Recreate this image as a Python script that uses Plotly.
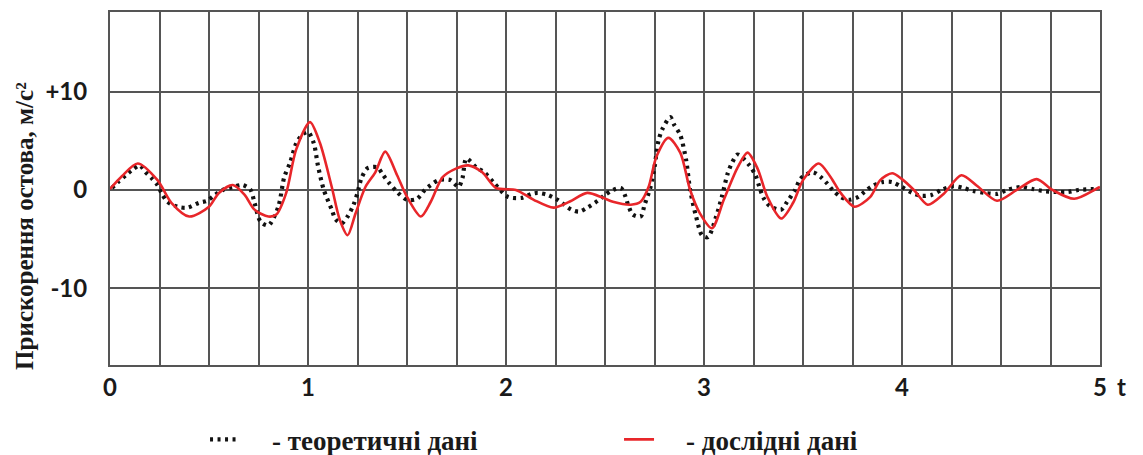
import plotly.graph_objects as go

# experimental data (red line)
t_exp = [0.00, 0.06, 0.14, 0.24, 0.31, 0.40, 0.50, 0.55, 0.62, 0.68, 0.73, 0.80, 0.84, 0.89, 0.94,
         1.01, 1.06, 1.12, 1.16, 1.20, 1.24, 1.29, 1.34, 1.39, 1.45, 1.50, 1.57, 1.62, 1.68, 1.75,
         1.81, 1.88, 1.95, 2.05, 2.14, 2.24, 2.32, 2.41, 2.49, 2.54, 2.63, 2.68, 2.72, 2.76, 2.82,
         2.88, 2.93, 2.98, 3.04, 3.10, 3.17, 3.22, 3.27, 3.32, 3.39, 3.45, 3.50, 3.58, 3.64, 3.69,
         3.76, 3.84, 3.89, 3.95, 4.00, 4.06, 4.13, 4.21, 4.30, 4.38, 4.48, 4.58, 4.68, 4.76, 4.87,
         4.98, 5.00]
a_exp = [0.1, 1.4, 2.7, 1.0, -1.3, -2.7, -1.7, -0.3, 0.5, -0.5, -2.0, -2.7, -2.5, -0.3, 4.1,
         6.9, 4.8, 0.3, -3.0, -4.6, -2.4, 0.3, 1.8, 3.9, 1.5, -0.7, -2.7, -1.2, 1.3, 2.2,
         2.5, 1.8, 0.2, 0.0, -1.0, -1.8, -1.2, -0.3, -0.8, -1.2, -1.5, -1.2, 0.3, 3.4, 5.3,
         3.8, 0.0, -2.4, -3.9, -1.0, 2.3, 3.8, 2.2, -0.7, -2.9, -1.3, 1.0, 2.7, 1.3, -0.3,
         -1.7, -0.7, 1.0, 1.7, 1.1, 0.0, -1.5, -0.4, 1.5, 0.4, -1.1, 0.0, 1.1, 0.0, -0.9,
         0.1, 0.3]

# theoretical data (black dotted line)
t_th = [0.01, 0.04, 0.08, 0.11, 0.15, 0.18, 0.21, 0.24, 0.26, 0.29, 0.34, 0.39, 0.45, 0.49, 0.53,
        0.57, 0.62, 0.67, 0.71, 0.73, 0.76, 0.80, 0.85, 0.88, 0.91, 0.94, 0.97, 1.00, 1.03, 1.05,
        1.08, 1.12, 1.14, 1.17, 1.20, 1.23, 1.25, 1.27, 1.30, 1.35, 1.38, 1.41, 1.45, 1.50, 1.55,
        1.59, 1.62, 1.66, 1.72, 1.76, 1.78, 1.80, 1.85, 1.89, 1.94, 2.01, 2.08, 2.13, 2.16, 2.21,
        2.26, 2.33, 2.37, 2.41, 2.47, 2.50, 2.54, 2.58, 2.60, 2.62, 2.64, 2.68, 2.70, 2.73, 2.75,
        2.77, 2.79, 2.83, 2.85, 2.88, 2.91, 2.93, 2.96, 2.99, 3.02, 3.06, 3.09, 3.12, 3.14, 3.17,
        3.23, 3.26, 3.28, 3.30, 3.33, 3.39, 3.42, 3.46, 3.49, 3.55, 3.59, 3.62, 3.65, 3.69, 3.73,
        3.78, 3.81, 3.85, 3.90, 3.95, 4.00, 4.05, 4.10, 4.15, 4.20, 4.26, 4.31, 4.36, 4.42, 4.48,
        4.53, 4.60, 4.66, 4.71, 4.78, 4.84, 4.89, 4.98]
a_th = [0.2, 0.8, 1.5, 2.0, 2.5, 1.8, 1.2, 0.5, -0.3, -1.2, -1.7, -1.8, -1.3, -1.1, -0.5,
        0.0, 0.3, 0.5, 0.0, -1.3, -3.2, -3.6, -1.7, 1.3, 2.8, 4.7, 5.6, 5.9, 4.7, 2.5,
        0.0, -2.0, -3.0, -3.4, -2.7, -1.5, -0.3, 1.2, 2.2, 2.3, 1.5, 0.7, -0.2, -1.0, -0.9,
        0.0, 0.5, 1.0, 1.0, 0.3, 1.2, 3.2, 2.3, 1.8, 0.7, -0.7, -0.8, -0.4, -0.3, -0.5,
        -1.0, -2.0, -2.2, -1.8, -1.0, -0.5, 0.0, 0.2, -0.5, -1.7, -2.5, -2.7, -1.5, 0.3, 2.3,
        5.0, 6.2, 7.4, 6.6, 5.6, 3.0, 0.0, -2.7, -4.6, -4.8, -2.8, -0.7, 1.7, 2.7, 3.6,
        2.5, 1.5, 0.3, -0.8, -1.6, -2.0, -1.2, 0.0, 1.2, 1.8, 1.3, 0.7, 0.0, -0.7, -1.0,
        -0.7, -0.2, 0.4, 0.8, 0.8, 0.3, -0.3, -0.6, -0.5, 0.0, 0.4, 0.2, -0.1, -0.3, -0.4,
        0.0, 0.3, 0.1, -0.1, -0.2, -0.2, 0.0, 0.1]

x_ticks = [0, 1, 2, 3, 4, 5]
x_ticktext = ["0", "1", "2", "3", "4", "5"]
y_ticks = [-10, 0, 10]
y_ticktext = ["-10", "0", "+10"]

name_th = "\u2002\u2002- теоретичні дані"
name_exp = "\u2002\u2002- дослідні дані"
y_title = "Прискорення остова, м/с²"

GRID = "#555555"
TXT = "#1a1a1a"
SANS = "Lato, 'Open Sans', 'Liberation Sans', sans-serif"
SERIF = "'Liberation Serif', 'DejaVu Serif', serif"

fig = go.Figure()
fig.add_trace(go.Scatter(
    x=t_th, y=a_th, mode="lines", name=name_th,
    line=dict(color="#111111", width=4.2, dash="3px,4.5px", shape="spline", smoothing=0.8),
))
fig.add_trace(go.Scatter(
    x=t_exp, y=a_exp, mode="lines", name=name_exp,
    line=dict(color="#e8262a", width=2.6, shape="spline", smoothing=0.8),
))

# the page body adds an 8 px offset, so the figure is 8 px smaller than the window
fig.update_layout(
    width=1135, height=447,
    margin=dict(l=102, r=43, t=4, b=90, autoexpand=False),
    paper_bgcolor="white", plot_bgcolor="white",
    showlegend=True,
    legend=dict(
        orientation="h", xref="container", yref="container",
        x=0.1736, xanchor="left", y=0.034, yanchor="middle",
        entrywidth=369, entrywidthmode="pixels",
        font=dict(family=SERIF, size=27, color=TXT, weight="bold"),
        bgcolor="rgba(0,0,0,0)",
    ),
    xaxis=dict(
        range=[0, 5], tickvals=x_ticks, ticktext=x_ticktext, automargin=False,
        showgrid=True, gridcolor=GRID, gridwidth=2,
        minor=dict(dtick=0.25, showgrid=True, gridcolor=GRID, gridwidth=2),
        showline=True, linecolor=GRID, linewidth=2, mirror=True,
        ticks="",
        tickfont=dict(family=SANS, size=24, color=TXT, weight="bold"),
        zeroline=False, fixedrange=True,
    ),
    yaxis=dict(
        range=[-17.8, 18.1], tickvals=y_ticks, ticktext=y_ticktext, automargin=False,
        showgrid=True, gridcolor=GRID, gridwidth=2,
        showline=True, linecolor=GRID, linewidth=2, mirror=True,
        ticks="outside", ticklen=16, tickcolor="rgba(0,0,0,0)",
        tickfont=dict(family=SANS, size=24, color=TXT, weight="bold"),
        zeroline=False, fixedrange=True,
    ),
    annotations=[
        dict(text=y_title, textangle=-90, xref="x domain", yref="y domain",
             x=-0.0859, y=0.394, xanchor="center", yanchor="middle", showarrow=False,
             font=dict(family=SERIF, size=25, color=TXT, weight="bold")),
        dict(text="t", xref="x domain", yref="y domain", x=1.022, y=-0.06,
             xanchor="center", yanchor="middle", showarrow=False,
             font=dict(family=SANS, size=24, color=TXT, weight="bold")),
    ],
)

fig.write_html("out.html")
